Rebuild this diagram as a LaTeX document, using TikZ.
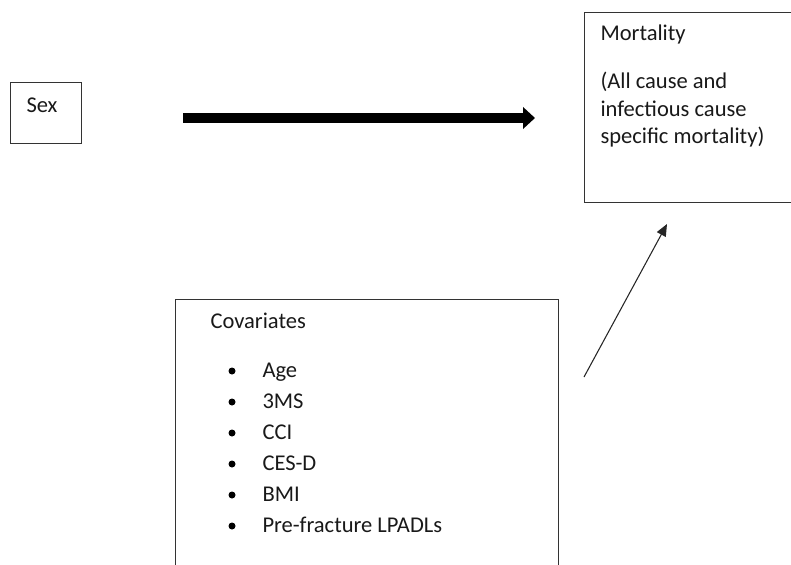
\documentclass[tikz,border=0pt]{standalone}
\usepackage{fontspec}
\setmainfont{Carlito}
\usetikzlibrary{arrows.meta,positioning}
\tikzset{every picture/.style={line width=0.75pt}}

\begin{document}
\begin{tikzpicture}[x=0.75pt, y=-0.75pt, >=Triangle]
    \tikzset{
        box/.style={draw=black!80, inner sep=0pt, anchor=north west},
        txt/.style={font=\fontsize{16.9}{20.6}\selectfont, anchor=base west, inner sep=0pt, text=black!90},
        dot/.style={fill=black}
    }
    \useasboundingbox (0,0) rectangle (791,564);

    % 方框
    \node[box, minimum width=53.25pt, minimum height=45.75pt] (sex) at (10,82) {};
    \node[box, minimum width=160pt, minimum height=142.5pt] (mort) at (584,12) {};
    \node[box, minimum width=287.25pt, minimum height=210pt] (cov) at (175,299) {};

    % 文字
    \node[txt] (sexlbl) at (26,112) {Sex};
    \node[txt] (mortlbl) at (600,40) {Mortality};
    \node[txt] (mortl1) at (600,88) {(All cause and};
    \node[txt] (mortl2) at (600,116) {infectious cause};
    \node[txt] (mortl3) at (600,143) {specific mortality)};
    \node[txt] (covlbl) at (210,328) {Covariates};

    % 列表
    \node[txt] (age) at (262,377) {Age};
    \node[txt] (tms) at (262,408) {3MS};
    \node[txt] (cci) at (262,439) {CCI};
    \node[txt] (cesd) at (262,470) {CES-D};
    \node[txt] (bmi) at (262,501) {BMI};
    \node[txt] (lpadl) at (262,532) {Pre-fracture LPADLs};
    \fill[dot] (232,371) circle (3.5);
    \fill[dot] (232,402) circle (3.5);
    \fill[dot] (232,433) circle (3.5);
    \fill[dot] (232,464) circle (3.5);
    \fill[dot] (232,495) circle (3.5);
    \fill[dot] (232,526) circle (3.5);

    % 箭头
    \coordinate (a0) at (183,118);
    \coordinate (a1) at (535,118);
    \coordinate (b0) at (584,377);
    \coordinate (b1) at (667,224);
    \draw[-{Triangle[length=9pt, width=16pt]}, line width=7pt] (a0) -- (a1);
    \draw[black!85, line width=0.8pt, -{Triangle[length=9pt, width=7.5pt]}] (b0) -- (b1);
\end{tikzpicture}
\end{document}
